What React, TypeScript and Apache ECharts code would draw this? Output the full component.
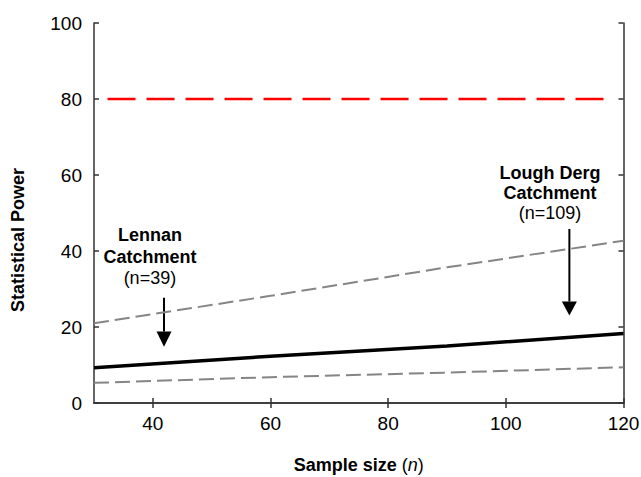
import React, { useEffect, useRef } from "react";
import * as echarts from "echarts";

const sampleSize = [30, 60, 90, 120];
const powerMean = [9.3, 12.3, 15.0, 18.3];
const upperBound = [21.0, 28.2, 35.7, 42.7];
const lowerBound = [5.3, 6.8, 8.0, 9.4];
const targetPower = 80;
const targetRange = [32.3, 117.6];
const xTicks = [40, 60, 80, 100, 120];

const annotations = [
  { lines: ["Lennan", "Catchment", "(n=39)"], x: 39.5, ys: [44.2, 38.4, 32.9], arrowX: 41.9, arrowTop: 27.7, arrowBase: 18.8, arrowTip: 14.8 },
  { lines: ["Lough Derg", "Catchment", "(n=109)"], x: 107.5, ys: [60.6, 55.3, 50.1], arrowX: 110.8, arrowTop: 45.8, arrowBase: 26.7, arrowTip: 23.0 },
];

const FONT = '"Liberation Sans", Arial, Helvetica, sans-serif';

export default function App() {
  const ref = useRef<HTMLDivElement>(null);
  useEffect(() => {
    document.body.style.margin = "0";
    const chart = echarts.init(ref.current!, null, { renderer: "svg" });
    const axisLine = { show: true, lineStyle: { color: "#333", width: 1.5 } };
    const tick = { show: true, inside: true, length: 5, lineStyle: { color: "#333", width: 1.5 } };
    chart.setOption({
      animation: false,
      backgroundColor: "#fff",
      grid: { left: 94, right: 17.5, top: 23, bottom: 74, containLabel: false, outerBoundsMode: "none" },
      xAxis: [
        {
          type: "value", min: 30, max: 120, position: "bottom",
          axisLine, axisTick: { ...tick, customValues: xTicks },
          axisLabel: { customValues: xTicks, fontSize: 19, fontFamily: FONT, color: "#000", margin: 11 },
          splitLine: { show: false },
        },
        {
          type: "value", min: 30, max: 120, position: "top",
          axisLine, axisTick: { ...tick, customValues: xTicks },
          axisLabel: { show: false }, splitLine: { show: false },
        },
      ],
      yAxis: [
        {
          type: "value", min: 0, max: 100, interval: 20, position: "left",
          axisLine, axisTick: tick,
          axisLabel: { fontSize: 19, fontFamily: FONT, color: "#000", margin: 12 },
          splitLine: { show: false },
        },
        {
          type: "value", min: 0, max: 100, interval: 20, position: "right",
          axisLine, axisTick: tick, axisLabel: { show: false }, splitLine: { show: false },
        },
      ],
      series: [
        {
          type: "line", data: targetRange.map((x) => [x, targetPower]), symbol: "none",
          lineStyle: { color: "#ff0000", width: 2.5, type: [28, 11] },
        },
        {
          type: "line", data: sampleSize.map((x, i) => [x, upperBound[i]]), symbol: "none",
          lineStyle: { color: "#858585", width: 2, type: [15, 6] },
        },
        {
          type: "line", data: sampleSize.map((x, i) => [x, lowerBound[i]]), symbol: "none",
          lineStyle: { color: "#858585", width: 2, type: [15, 6] },
        },
        {
          type: "line", data: sampleSize.map((x, i) => [x, powerMean[i]]), symbol: "none",
          lineStyle: { color: "#000", width: 3.5 },
        },
      ],
    });

    const px = (x: number, y: number) => chart.convertToPixel({ gridIndex: 0 }, [x, y]) as number[];
    const graphics: any[] = [];
    annotations.forEach((a) => {
      a.lines.forEach((t, i) => {
        const p = px(a.x, a.ys[i]);
        graphics.push({
          type: "text", x: p[0], y: p[1],
          style: {
            text: t, fontSize: 18, fontWeight: i < 2 ? "bold" : "normal", fontFamily: FONT,
            fill: "#000", align: "center", verticalAlign: "middle",
          },
        });
      });
      const top = px(a.arrowX, a.arrowTop);
      const base = px(a.arrowX, a.arrowBase);
      const tip = px(a.arrowX, a.arrowTip);
      graphics.push({
        type: "line", shape: { x1: top[0], y1: top[1], x2: base[0], y2: base[1] },
        style: { stroke: "#000", lineWidth: 2 },
      });
      graphics.push({
        type: "polygon",
        shape: { points: [[base[0] - 7.5, base[1]], [base[0] + 7.5, base[1]], [tip[0], tip[1]]] },
        style: { fill: "#000" },
      });
    });
    const xc = (px(30, 0)[0] + px(120, 0)[0]) / 2;
    graphics.push({
      type: "text", x: xc, y: 465,
      style: {
        text: "{b|Sample size }{r|(}{i|n}{r|)}", align: "center", verticalAlign: "middle",
        rich: {
          b: { fontSize: 18, fontWeight: "bold", fontFamily: FONT, fill: "#000" },
          r: { fontSize: 18, fontFamily: FONT, fill: "#000" },
          i: { fontSize: 18, fontStyle: "italic", fontFamily: FONT, fill: "#000" },
        },
      },
    });
    graphics.push({
      type: "text", x: 18, y: 240, rotation: Math.PI / 2,
      style: {
        text: "Statistical Power", fontSize: 18, fontWeight: "bold", fontFamily: FONT,
        fill: "#000", align: "center", verticalAlign: "middle",
      },
    });
    chart.setOption({ graphic: graphics });
    return () => chart.dispose();
  }, []);
  return <div ref={ref} style={{ width: 641, height: 477 }} />;
}
